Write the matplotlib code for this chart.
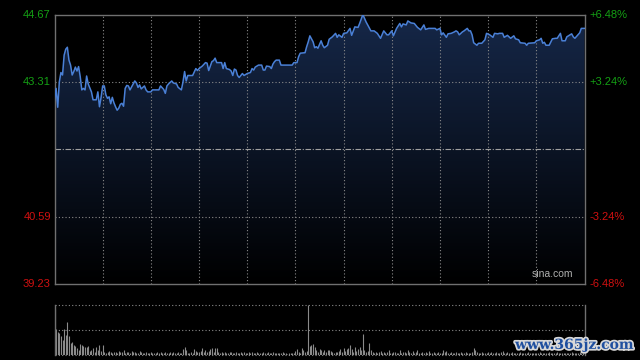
import matplotlib
matplotlib.use("Agg")
import matplotlib.pyplot as plt
import numpy as np
from matplotlib.patches import Polygon
import matplotlib.patheffects as pe

# ---------------- data ----------------
prev_close = 41.95
price_ticks = [44.67, 43.31, 40.59, 39.23]
pct_labels = ["+6.48%", "+3.24%", "-3.24%", "-6.48%"]

minutes = [0,1,2,3,4,5,6,7,8,9,10,11,12,13,14,15,16,17,18,19,20,21,22,23,24,26,27,28,29,30,
           31,32,33,34,35,36,37,38,39,40,41,42,43,44,45,46,47,49,50,51,52,53,54,56,57,58,60,61,65,66,
           68,69,70,71,73,74,76,77,79,80,81,82,83,86,88,89,90,92,94,95,96,98,99,100,101,104,105,106,107,109,
           110,111,112,113,114,115,117,118,120,122,123,124,125,126,127,129,130,131,132,134,135,136,137,138,140,141,148,149,151,152,
           153,156,157,158,159,161,162,163,164,166,167,168,170,171,173,175,176,177,179,180,182,184,185,187,189,190,192,194,195,197,
           199,201,203,205,207,208,210,211,213,215,216,217,219,220,222,224,226,228,230,231,233,237,238,240,241,242,244,245,247,249,
           250,251,252,254,255,257,258,259,260,261,263,264,266,268,269,271,273,274,276,277,279,280,282,283,284,286,287,289,290,293,
           294,295,299,300,302,303,304,305,306,308,310,312,313,315,316,318,319,322,323,324,327,328,330]

prices = [42.95,43.18,42.80,43.31,43.50,43.45,43.85,43.97,44.01,43.75,43.65,43.45,43.52,43.61,43.53,43.62,43.42,43.15,43.18,43.15,
          43.43,43.27,43.19,43.11,42.95,42.95,43.11,42.81,43.00,43.23,
          43.23,43.05,42.98,43.01,42.87,43.00,42.89,42.81,42.74,42.78,42.86,42.88,42.82,43.18,43.24,43.23,43.15,43.27,43.33,43.29,
          43.20,43.25,43.17,43.23,43.15,43.11,43.11,43.15,43.15,43.23,
          43.16,43.08,43.23,43.27,43.33,43.29,43.27,43.20,43.15,43.31,43.52,43.33,43.44,43.44,43.58,43.54,43.58,43.63,43.70,43.69,
          43.54,43.72,43.74,43.79,43.70,43.70,43.58,43.70,43.58,43.56,
          43.53,43.44,43.57,43.55,43.44,43.40,43.48,43.44,43.48,43.50,43.58,43.55,43.61,43.63,43.65,43.65,43.55,43.55,43.63,43.62,
          43.58,43.67,43.72,43.75,43.75,43.65,43.65,43.70,43.70,43.82,
          43.89,43.90,44.02,44.12,44.24,44.12,44.00,44.02,43.99,44.14,44.05,44.00,44.05,44.17,44.22,44.29,44.21,44.26,44.21,44.29,
          44.30,44.39,44.25,44.42,44.41,44.49,44.67,44.52,44.46,44.34,
          44.34,44.29,44.19,44.34,44.26,44.26,44.34,44.24,44.39,44.49,44.42,44.48,44.46,44.54,44.50,44.49,44.41,44.36,44.46,44.37,
          44.39,44.39,44.36,44.39,44.26,44.30,44.21,44.28,44.29,44.32,
          44.34,44.32,44.26,44.32,44.34,44.39,44.34,44.34,44.26,44.10,44.05,44.09,44.09,44.16,44.29,44.26,44.21,44.29,44.28,44.29,
          44.29,44.21,44.25,44.22,44.19,44.24,44.18,44.16,44.10,44.09,
          44.05,44.09,44.10,44.14,44.16,44.19,44.09,44.11,44.05,44.05,44.18,44.19,44.19,44.29,44.14,44.14,44.22,44.28,44.22,44.19,
          44.30,44.39,44.39]

volume = [92,51,46,43,37,30,51,40,66,37,
          24,26,20,17,14,10,21,19,17,15,
          16,17,7,9,14,6,15,9,19,8,
          20,5,4,6,8,5,4,6,5,4,
          8,6,5,9,4,6,5,3,8,6,
          5,4,3,7,5,4,3,6,4,3,
          5,4,3,4,6,3,5,4,3,5,
          4,3,5,4,6,3,4,5,3,4,
          11,16,10,4,3,5,4,11,8,6,
          5,7,13,5,9,6,8,12,14,6,
          13,13,5,4,6,3,5,4,3,5,
          6,4,3,5,4,3,6,4,5,3,
          4,5,3,6,4,3,5,4,3,4,
          5,3,4,6,3,4,5,3,4,3,
          4,3,5,4,3,2,4,3,4,3,
          7,12,6,4,14,9,6,8,100,17,
          19,21,15,9,5,12,9,5,9,5,
          9,10,7,5,4,6,5,7,12,6,
          14,7,12,14,19,12,6,15,7,11,
          15,10,41,10,6,8,24,10,5,4,
          6,4,5,7,4,6,3,5,9,4,
          3,5,6,4,3,9,4,5,6,3,
          9,5,4,7,3,5,10,4,3,6,
          4,5,3,8,4,3,5,4,3,6,
          4,3,10,5,7,4,3,5,4,3,
          5,4,3,6,4,3,5,4,3,4,
          6,14,9,5,4,3,5,4,3,4,
          5,4,6,3,4,5,3,4,6,7,
          4,3,5,4,3,5,4,3,4,3,
          5,4,3,4,3,5,4,3,4,3,
          4,3,5,3,4,3,4,3,5,4,
          3,4,3,5,4,3,4,3,4,3,
          4,3,5,4,3,4,3,5,4,3,
          4]
vol_minutes = list(range(len(volume)))
vol_max = 100
session_len = 330
grid_step = 30

# ---------------- figure ----------------
fig = plt.figure(figsize=(6.4, 3.6), dpi=100, facecolor="black")
ax = fig.add_axes([54.5/640, 75.7/360, 530/640, 269.8/360])
axv = fig.add_axes([54.5/640, 5.5/360, 530/640, 50/360])

ymin, ymax = price_ticks[-1], price_ticks[0]
for a in (ax, axv):
    a.set_facecolor("black")
    a.set_xticks([]); a.set_yticks([])
ax.set_xlim(0, session_len)
ax.set_ylim(ymin, ymax)

# gradient fill under the line
grad = np.linspace(0, 1, 256).reshape(-1, 1)
top_col = np.array([0.085, 0.155, 0.285])
img = grad[..., None] * top_col[None, None, :]
im = ax.imshow(img, extent=[0, session_len, ymin, ymax], origin="lower",
               aspect="auto", zorder=1, interpolation="bilinear")
verts = [(minutes[0], ymin)] + list(zip(minutes, prices)) + [(minutes[-1], ymin)]
poly = Polygon(verts, closed=True, fc="none", ec="none", transform=ax.transData)
ax.add_patch(poly)
im.set_clip_path(poly)

# grid
gc = "#8a8a8a"
for m in range(grid_step, session_len, grid_step):
    ax.axvline(m, color=gc, lw=0.8, ls=(0, (1, 2)), zorder=2)
for p in (price_ticks[1], price_ticks[2]):
    ax.axhline(p, color=gc, lw=0.8, ls=(0, (1, 2)), zorder=2)
ax.axhline(prev_close, color="#a0a0a0", lw=0.8, ls=(0, (5, 1.5, 1, 1.5)), zorder=2)

ax.plot(minutes, prices, color="#4a80d6", lw=1.1, zorder=3)

for s in ax.spines.values():
    s.set_color("#707070"); s.set_linewidth(1.0)

# labels
green, red = "#14a014", "#d01010"
fam = ["Liberation Sans", "DejaVu Sans"]
for p, lab in zip(price_ticks, pct_labels):
    c = green if p > prev_close else red
    ax.text(-0.007, p, f"{p:.2f}", transform=ax.get_yaxis_transform(), ha="right",
            va="center", color=c, fontsize=8, family=fam)
    ax.text(1.01, p, lab, transform=ax.get_yaxis_transform(), ha="left",
            va="center", color=c, fontsize=8, family=fam)
ax.text(0.978, 0.02, "sina.com", transform=ax.transAxes, ha="right", va="bottom",
        color="#b0b0b0", fontsize=7.5, family=fam, zorder=4)

# volume panel
axv.set_xlim(0, session_len)
axv.set_ylim(0, vol_max)
axv.vlines(vol_minutes, 0, volume, color="#8a8a8a", lw=0.8)
for v in (vol_max, vol_max / 2, 0):
    axv.axhline(v, color=gc, lw=0.8, ls=(0, (1, 2)), clip_on=False)
for k in ("top", "bottom"):
    axv.spines[k].set_visible(False)
for k in ("left", "right"):
    axv.spines[k].set_color("#707070"); axv.spines[k].set_linewidth(1.0)

fig.text(0.99, 0.042, "www.365jz.com", ha="right", va="center", fontsize=10,
         color="#1f4f9f", family=["DejaVu Serif"], fontweight="bold",
         path_effects=[pe.withStroke(linewidth=2.5, foreground="#d8d8d8")])

fig.savefig("out.png", dpi=100, facecolor="black")
